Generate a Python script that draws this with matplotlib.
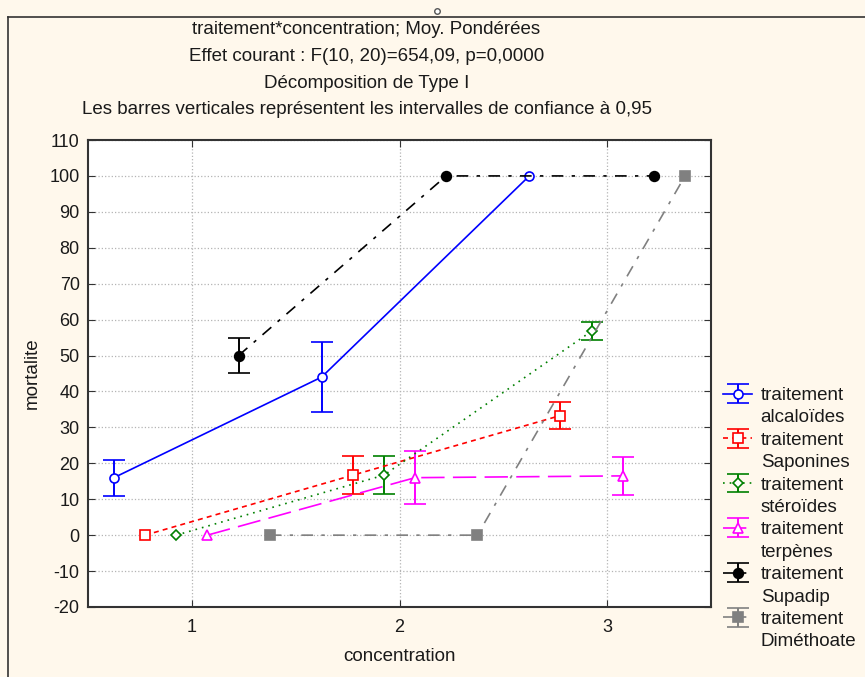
import numpy as np
import matplotlib.pyplot as plt
from matplotlib.lines import Line2D

plt.rcParams['font.family'] = ['Liberation Sans', 'DejaVu Sans']
plt.rcParams['axes.unicode_minus'] = False

# niveaux de concentration et moyennes de mortalite par traitement
concentration = [1, 2, 3]
traitements = ['alcaloïdes', 'Saponines', 'stéroïdes', 'terpènes', 'Supadip', 'Diméthoate']
alcaloides = [16, 44, 100]
saponines = [0, 16.7, 33.3]
steroides = [0, 16.7, 56.8]
terpenes = [0, 16, 16.5]
supadip = [50, 100, 100]
dimethoate = [0, 0, 100]
# demi-largeurs des intervalles de confiance a 0,95 (0 = pas de barre)
ic_alcaloides = [5, 9.8, 0]
ic_saponines = [0, 5.2, 3.7]
ic_steroides = [0, 5.2, 2.4]
ic_terpenes = [0, 7.4, 5.2]
ic_supadip = [4.8, 0, 0]
ic_dimethoate = [0, 0, 0]

moyennes = [alcaloides, saponines, steroides, terpenes, supadip, dimethoate]
intervalles = [ic_alcaloides, ic_saponines, ic_steroides, ic_terpenes, ic_supadip, ic_dimethoate]

couleurs = ['#0000ff', '#ff0000', '#008000', '#ff00ff', '#000000', '#808080']
marqueurs = ['o', 's', 'D', '^', 'o', 's']
remplis = [False, False, False, False, True, True]
tailles = [6.5, 7, 5, 7, 7, 7]
styles = ['-', (0, (3, 2.5)), (0, (1, 3)), (0, (14, 5)), (0, (7, 5, 2, 5)), (0, (7, 5, 2, 5))]

fond = '#fff8ec'
texte = '#1a1a1a'
fig = plt.figure(figsize=(8.65, 6.77), dpi=100, facecolor=fond)
ax = fig.add_axes([0.1017, 0.1034, 0.7203, 0.6898])
ax.set_facecolor('white')

poignees = []
for i, nom in enumerate(traitements):
    decal = (i - 2.5) * 0.15
    x = np.array(concentration) + decal
    y = np.array(moyennes[i], dtype=float)
    e = np.array(intervalles[i], dtype=float)
    e[e == 0] = np.nan
    c = couleurs[i]
    h = ax.errorbar(x, y, yerr=e, color=c, ecolor=c, linestyle=styles[i], linewidth=1.2,
                    marker=marqueurs[i], markersize=tailles[i],
                    markerfacecolor=c if remplis[i] else 'white', markeredgecolor=c,
                    markeredgewidth=1.2, capsize=8, capthick=1.4, elinewidth=1.4, zorder=3)
    poignees.append(h)

ax.set_xlim(0.5, 3.5)
ax.set_ylim(-20, 110)
ax.set_xticks([1, 2, 3])
ax.set_yticks(np.arange(-20, 111, 10))
ax.grid(True, linestyle=':', color='#b4b4b4', linewidth=0.9)
ax.tick_params(axis='both', direction='in', length=5, labelsize=13, colors='#333333',
               labelcolor=texte)
ax.tick_params(axis='y', right=True, pad=6)
ax.tick_params(axis='x', top=True, pad=9)
for s in ax.spines.values():
    s.set_color('#333333')
    s.set_linewidth(1.5)

ax.set_xlabel('concentration', fontsize=13.5, color=texte, labelpad=8)
ax.set_ylabel('mortalite', fontsize=13.5, color=texte, labelpad=6)

titres = ['traitement*concentration; Moy. Pondérées',
          'Effet courant : F(10, 20)=654,09, p=0,0000',
          'Décomposition de Type I',
          'Les barres verticales représentent les intervalles de confiance à 0,95']
for k, t in enumerate(titres):
    fig.text(0.4237, 1 - (30 + k * 26.5) / 677, t, ha='center', va='center',
             fontsize=13.5, color=texte)

# legende : symbole sur la premiere ligne, nom du traitement en dessous
vide = Line2D([], [], linestyle='none')
leg_h, leg_l = [], []
for h, nom in zip(poignees, traitements):
    leg_h += [h, vide]
    leg_l += ['traitement', nom]
leg = ax.legend(leg_h, leg_l, loc='upper left', bbox_to_anchor=(0.836, 1 - 387 / 677),
                bbox_transform=fig.transFigure, frameon=False, fontsize=13.5,
                handlelength=1.55, handletextpad=0.45, labelspacing=0.28, borderaxespad=0,
                borderpad=0)
for t in leg.get_texts():
    t.set_color(texte)

# cadre de la fenetre
fig.add_artist(Line2D([8 / 865, 1], [1 - 17 / 677, 1 - 17 / 677], transform=fig.transFigure,
                      color='#333333', linewidth=1.2))
fig.add_artist(Line2D([8 / 865, 8 / 865], [0, 1 - 17 / 677], transform=fig.transFigure,
                      color='#333333', linewidth=1.2))
fig.add_artist(Line2D([437 / 865], [1 - 11 / 677], transform=fig.transFigure, marker='o',
                      markersize=4, markerfacecolor='white', markeredgecolor='#555555',
                      linestyle='none'))

fig.savefig('out.png', dpi=100, facecolor=fond)
